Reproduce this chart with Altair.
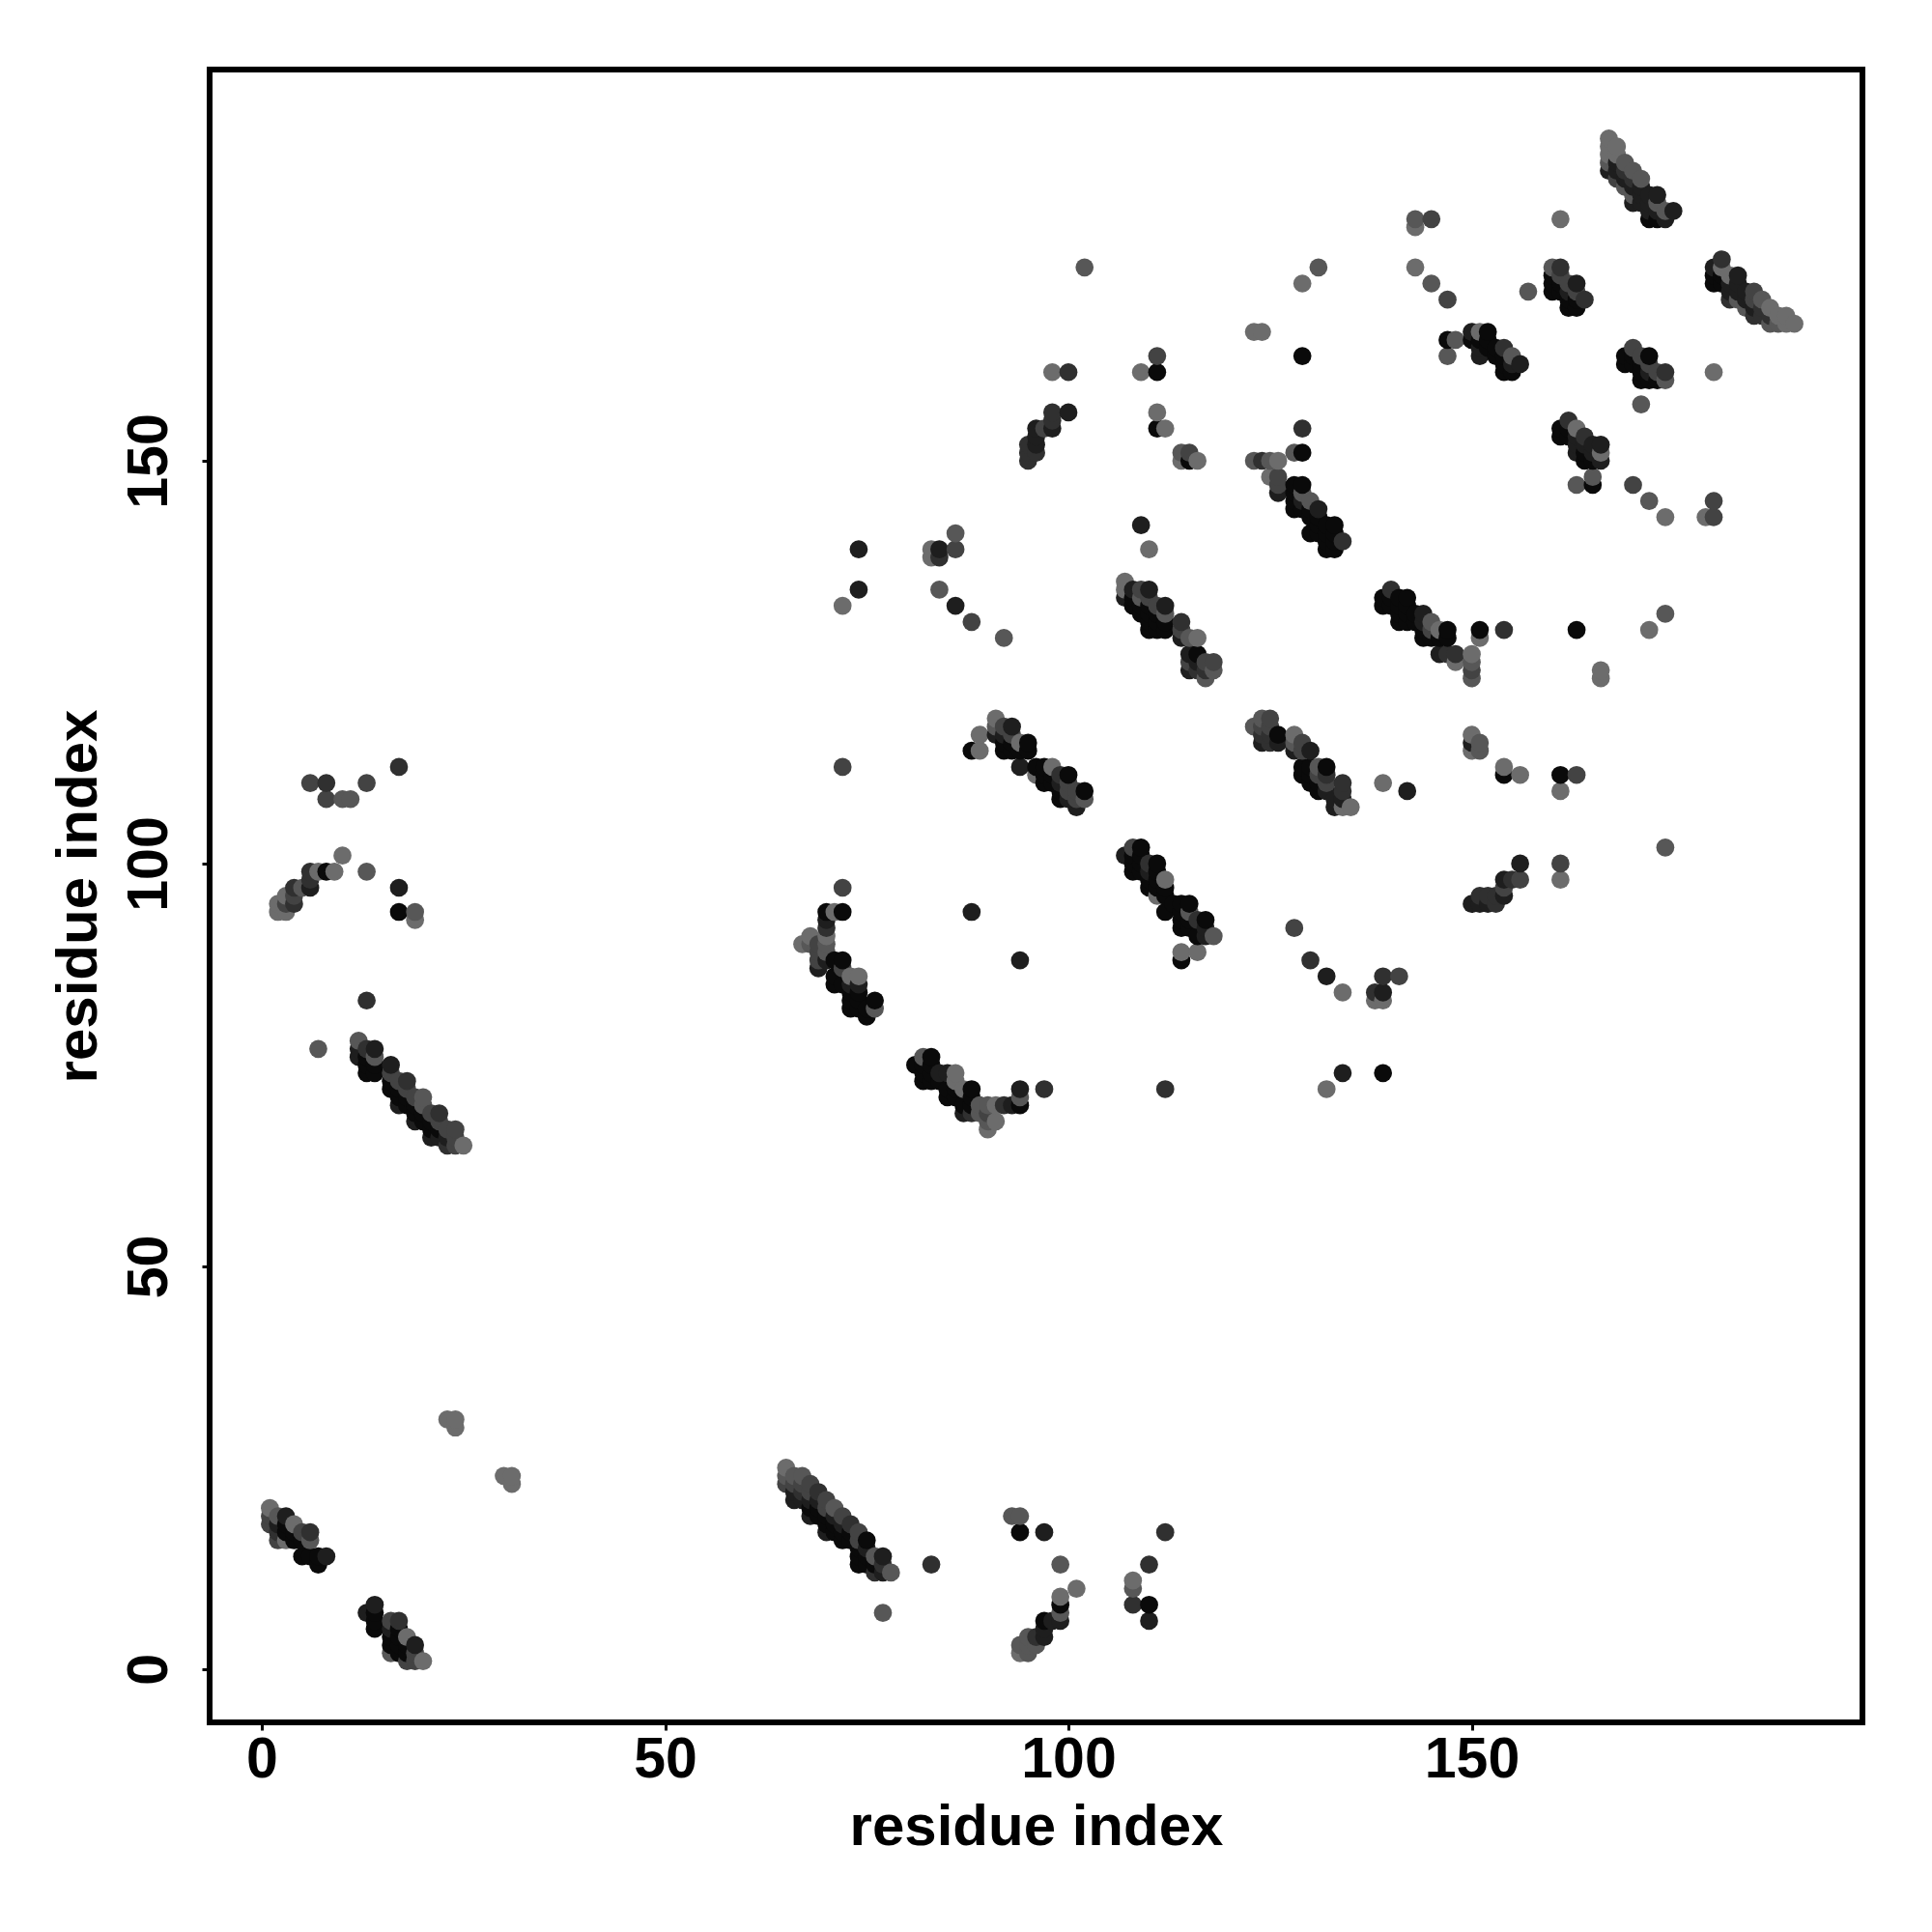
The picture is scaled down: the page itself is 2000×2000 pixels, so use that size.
import altair as alt
import pandas as pd

# Each tuple: residue x, residue y, contact shade (0 = darkest, 5 = lightest)
block_a = [(1,18,3),(1,19,3),(1,20,5),(2,16,3),(2,17,2),(2,18,1),(2,19,4),(3,16,5),(3,17,0),(3,18,0),(3,19,1),
           (4,16,0),(4,17,0),(4,18,5),(5,14,0),(5,16,0),(5,17,3),(6,14,0),(6,16,4),(6,17,2),(7,13,0),(7,14,0),(8,14,1)]
block_b = [(13,7,1),(14,5,0),(14,6,0),(14,7,0),(14,8,1),(16,2,4),(16,3,0),(16,4,0),(16,5,1),(16,6,3),
           (17,2,0),(17,3,0),(17,4,0),(17,5,0),(17,6,2),(18,1,3),(18,2,0),(18,3,0),(18,4,5),(19,1,3),(19,2,3),(19,3,1),(20,1,5)]
block_c = [(7,77,4),(12,76,1),(12,77,1),(12,78,4),(13,74,0),(13,75,0),(13,76,0),(13,77,2),(13,83,2),
           (14,74,0),(14,75,0),(14,76,4),(14,77,1),(16,72,0),(16,73,0),(16,74,3),(16,75,1),
           (17,70,1),(17,71,0),(17,72,0),(17,73,3),(18,70,0),(18,71,0),(18,72,3),(18,73,2),
           (19,68,1),(19,69,0),(19,70,0),(19,71,3),(20,68,0),(20,69,0),(20,70,4),(20,71,4),
           (21,66,1),(21,67,0),(21,68,0),(21,69,3),(22,66,1),(22,67,0),(22,68,3),(22,69,2),
           (23,65,2),(23,66,1),(23,67,3),(24,65,3),(24,66,3),(24,67,3),(25,65,5)]
block_d = [(65,23,3),(65,24,4),(65,25,5),(66,21,1),(66,22,1),(66,23,3),(66,24,4),(67,21,1),(67,22,2),(67,23,3),(67,24,4),
           (68,19,1),(68,20,0),(68,21,1),(68,22,3),(68,23,3),(69,19,0),(69,20,0),(69,21,1),(69,22,2),
           (70,17,1),(70,18,0),(70,19,0),(70,20,3),(70,21,3),(71,17,0),(71,18,0),(71,19,1),(71,20,4),
           (72,16,0),(72,17,0),(72,18,1),(72,19,3),(73,16,0),(73,17,0),(73,18,2),
           (74,13,0),(74,14,0),(74,15,0),(74,16,3),(74,17,3),(75,13,0),(75,14,0),(75,15,1),(75,16,0),
           (76,12,2),(76,13,0),(76,14,4),(77,7,4),(77,12,1),(77,13,2),(77,14,1),(78,12,4),(83,13,2)]
isolated_low = [(23,31,5),(24,31,5),(24,30,5),(30,24,5),(31,24,5),(31,23,5),
                (93,19,4),(94,19,4),(94,17,0),(97,17,1),(99,13,4),(101,10,5),(99,9,5),(99,8,0),(99,7,4),(99,6,1),
                (97,6,0),(98,6,1),(97,5,1),(96,4,2),(97,4,1),(95,4,4),(94,3,4),(94,2,5),(95,2,4),(96,3,4),(95,3,4),
                (108,11,5),(108,10,4),(108,8,2),(110,13,2),(110,8,0),(110,6,1),(112,17,2)]
far_points = [(132,72,5),(134,74,1),(139,74,0),(132,86,1),(134,84,5),(138,84,2),(139,84,1),(138,83,5),(139,83,5),
              (139,86,2),(141,86,3),(88,94,1),(94,88,1),(128,92,3),(130,88,2),(139,110,5),(142,109,1),
              (109,142,1),(110,139,5),(88,130,3),(92,128,4)]
block_e1 = [(72,97,3),(72,94,0),(71,94,5),(70,94,0),(70,93,1),(70,92,2),(70,91,5),(70,90,4),(70,89,4),
            (68,91,5),(67,90,5),(68,90,4),(69,90,3),(69,89,3),(69,88,3),(69,87,1),(70,88,1),(71,88,0),(72,88,0),
            (71,85,0),(71,86,0),(72,87,3),(73,86,5),(74,86,5),(74,85,1),(73,83,0),(73,84,0),(72,85,0),(73,85,1),
            (74,84,0),(74,83,0),(75,81,0),(75,82,0),(74,82,0),(73,82,0),(76,83,0),(76,82,4)]
block_e2 = [(81,75,0),(82,76,4),(83,76,0),(82,75,0),(82,74,0),(82,73,0),(83,75,0),(83,74,0),(83,73,0),(84,74,1),(84,73,0),
            (85,74,1),(86,74,5),(86,73,5),(85,71,0),(85,72,0),(86,72,0),(86,71,0),(87,72,5),(88,72,0),(88,71,0),
            (87,69,1),(87,70,0),(88,69,2),(88,70,0),(89,70,4),(89,69,4),(90,70,4),(90,69,3),(90,68,4),(90,67,5),(91,68,5),
            (91,70,5),(92,70,2),(93,70,1),(94,70,0),(94,71,4),(94,72,1),(97,72,2),(112,72,2)]
block_f = [(107,101,1),(108,102,3),(109,102,0),(108,101,0),(108,100,0),(108,99,0),(109,101,0),(109,100,0),(109,99,0),
           (110,100,2),(110,99,1),(110,98,0),(110,97,0),(111,100,0),(111,99,0),(111,98,0),(111,97,0),(111,96,5),
           (112,98,5),(112,97,0),(112,96,0),(112,94,0),(113,95,0),(114,95,0),(115,95,0),(114,94,0),(114,93,0),(114,92,0),
           (115,94,4),(115,93,0),(115,92,0),(116,93,2),(117,93,0),(116,91,0),(117,92,1),(117,91,1),(118,91,4),
           (114,89,5),(116,89,5),(114,88,0)]
block_g = [(89,116,5),(89,114,5),(88,114,0),(91,118,5),(91,117,4),(91,116,1),(92,117,3),(92,116,1),(92,115,0),(92,114,0),
           (93,117,1),(93,116,3),(93,115,0),(93,114,0),(94,115,5),(94,114,0),(94,112,1),(95,115,0),(95,114,0),
           (96,112,0),(96,111,5),(97,112,0),(97,111,0),(97,110,0),(98,112,5),(98,111,0),(98,110,0),
           (99,111,2),(99,110,1),(99,109,0),(99,108,0),(100,111,0),(100,110,3),(100,109,3),(100,108,1),
           (101,107,1),(101,109,3),(101,108,3),(102,109,0),(102,108,4)]
block_h = [(107,135,5),(107,134,5),(107,133,1),(108,134,1),(108,133,0),(108,132,0),(109,134,3),(109,133,4),(109,132,0),(109,131,0),
           (110,134,1),(110,133,3),(110,132,0),(110,131,0),(110,130,0),(110,129,0),(111,132,3),(111,131,0),(111,130,0),(111,129,0),
           (112,132,1),(112,131,4),(112,130,0),(112,129,0),(114,130,2),(114,129,3),(114,128,1),(115,128,4),(116,128,5),
           (115,126,1),(115,125,3),(115,124,1),(116,126,0),(116,125,1),(116,124,2),(117,125,3),(117,124,2),(117,123,4),(118,125,3),(118,124,4)]
block_i = [(123,117,4),(124,118,4),(125,118,3),(124,117,3),(124,116,2),(124,115,1),(125,117,3),(125,116,2),(125,115,2),
           (126,116,0),(126,115,1),(128,116,5),(128,115,4),(128,114,1),(129,115,3),(129,114,3),(130,114,1),
           (129,112,0),(129,111,0),(130,112,0),(130,111,0),(130,110,0),(131,112,4),(131,111,3),(131,110,0),(131,109,0),
           (132,112,0),(132,111,2),(132,110,3),(132,109,1),(133,107,1),(133,108,1),(134,110,2),(134,109,2),(134,108,1),(134,107,5),(135,107,5)]
block_j1 = [(129,154,2),(128,151,4),(129,151,0),(123,150,4),(124,150,2),(125,150,4),(126,150,5),(125,148,5),(126,148,3),(126,147,3),(126,146,1),
            (128,147,0),(129,147,0),(128,146,0),(128,145,0),(128,144,0),(129,146,4),(129,145,1),(129,144,0),(130,145,4),(130,144,0),(130,143,0),
            (131,144,1),(131,143,0),(131,142,0),(130,141,0),(132,142,0),(133,142,0),(132,141,0),(132,140,0),(132,139,0),(131,141,0),
            (133,141,0),(133,140,0),(133,139,0),(134,140,2)]
block_j2 = [(139,133,0),(139,132,0),(140,134,2),(140,133,0),(140,132,0),(141,133,0),(141,132,0),(141,131,0),(141,130,0),
            (142,133,0),(142,132,0),(142,131,0),(142,130,0),(143,131,0),(143,130,0),(144,131,1),(144,130,1),(144,129,0),(144,128,0),
            (145,130,4),(145,129,3),(145,128,0),(146,128,0),(146,129,5),(147,129,0),(147,128,0),(146,126,1),(147,126,2),(148,126,2),(148,125,5),
            (150,126,5),(150,125,4),(150,124,3),(150,123,4),(151,129,0),(151,128,5),(154,129,2),(163,129,0),(172,129,5),(174,131,4),(166,124,5),(166,123,5)]
scatter_mid = [(150,116,5),(151,115,4),(150,115,1),(151,114,4),(150,114,5),(154,112,5),(154,111,0),(156,111,5),
               (161,111,0),(163,111,3),(161,109,5),(174,102,4),(161,100,3),(161,98,5)]
block_l = [(156,100,1),(154,98,1),(156,98,3),(154,96,1),(155,98,2),(154,97,3),(152,96,2),(153,96,2),(151,96,2),(150,95,1),(151,95,1),(152,95,1),(153,95,2)]
scatter_top = [(143,180,4),(143,179,5),(145,180,3),(161,180,5),(143,174,5),(145,172,4),(147,170,3),(157,171,4),
               (180,161,5),(171,157,4),(163,147,4),(165,148,4),(165,147,0),(170,147,3),(172,145,4),(174,143,5),(179,143,5),(180,143,3),(180,145,3),
               (102,174,4),(98,161,5),(100,161,2),(109,161,5),(111,161,0),(111,163,3),(111,156,5),(111,154,0),(112,154,5),
               (129,172,5),(131,174,4),(123,166,5),(124,166,5),(129,163,0),(114,151,4),(115,151,3),(114,150,5),(115,150,0),(116,150,5)]
block_n = [(160,174,4),(161,174,2),(160,173,0),(160,172,0),(160,171,0),(161,173,3),(161,172,0),(161,171,0),(162,172,3),(162,171,1),(162,170,0),(162,169,0),
           (163,172,1),(163,171,3),(163,170,0),(163,169,0),(164,170,2)]
block_o = [(167,190,5),(167,189,5),(167,188,5),(167,187,4),(167,186,1),(168,189,5),(168,188,5),(168,187,1),(168,186,1),(168,185,3),
           (169,187,4),(169,186,2),(169,185,1),(169,184,4),(170,186,4),(170,185,2),(170,184,1),(170,183,4),(170,182,1),
           (171,185,4),(171,184,1),(171,183,1),(171,182,1),(172,183,1),(172,182,1),(172,181,1),(172,180,0),
           (173,183,1),(173,182,4),(173,181,1),(173,180,0),(174,181,4),(174,180,1),(175,181,1)]
block_p = [(181,175,2),(180,174,1),(180,173,0),(180,172,0),(181,174,5),(181,173,0),(181,172,0),(182,173,5),(182,172,1),(182,171,1),(182,170,2),
           (183,173,1),(183,172,1),(183,171,1),(183,170,4),(184,171,1),(184,170,1),(184,169,4),(185,171,3),(185,170,3),(185,169,1),(185,168,2),
           (186,170,4),(186,169,2),(186,168,2),(187,169,5),(187,168,2),(187,167,4),(188,168,5),(188,167,4),(189,168,5),(189,167,5),(190,167,5)]
block_q = [(147,165,0),(148,165,4),(147,163,4),(150,166,1),(151,166,5),(152,166,0),(150,165,0),(151,165,0),(152,165,0),(151,164,1),(151,163,1),
           (152,164,0),(153,164,0),(153,163,0),(154,164,2),(154,163,0),(154,162,0),(154,161,0),(155,163,4),(155,162,1),(155,161,0),(156,162,1)]
block_r = [(170,164,3),(169,163,0),(169,162,0),(170,163,0),(170,162,0),(171,163,3),(171,162,0),(171,161,0),(171,160,0),
           (172,163,0),(172,162,3),(172,161,1),(172,160,0),(173,161,3),(173,160,0),(174,161,2),(174,160,4)]
block_s = [(162,155,2),(161,154,0),(161,153,0),(162,154,0),(162,153,0),(163,154,5),(163,153,1),(163,152,1),(163,151,1),
           (164,153,2),(164,152,1),(164,151,0),(164,150,0),(165,152,1),(165,151,1),(165,150,0),(166,152,1),(166,151,5),(166,150,1)]
block_t = [(98,156,2),(100,156,1),(98,155,2),(98,154,1),(97,154,3),(96,154,1),(96,153,1),(96,152,1),(95,152,2),(95,151,2),(95,150,2),(96,151,2)]
scatter_left = [(74,139,1),(74,134,1),(72,132,5),(83,139,5),(83,138,5),(84,139,1),(84,138,2),(86,139,3),(86,141,4),
                (84,134,4),(86,132,1),(72,112,3),(17,112,2),(6,110,3),(8,110,2),(13,110,3),(8,108,3),(10,108,4),(11,108,4),
                (10,101,5),(13,99,4),(9,99,5),(7,99,5),(8,99,0),(6,99,2),(6,98,2),(6,97,1),(4,97,2),(5,97,4),(4,96,3),(3,96,5),
                (4,95,2),(2,95,5),(3,95,3),(2,94,5),(3,94,5),(17,97,1),(17,94,0),(19,94,4),(19,93,5)]

tick_values = [0, 50, 100, 150]
axis_title = "residue index"
x_domain = [-6.47, 198.44]
y_domain = [-6.6, 198.56]

blocks = [block_a, block_b, block_c, block_d, isolated_low, far_points, block_e1, block_e2, block_f, block_g,
          block_h, block_i, block_j1, block_j2, scatter_mid, block_l, scatter_top, block_n, block_o, block_p,
          block_q, block_r, block_s, block_t, scatter_left]
rows = [t for b in blocks for t in b]
df = pd.DataFrame(rows, columns=["x", "y", "shade"])
df = df.drop_duplicates(["x", "y"], keep="last").sort_values(["x", "y"])

font = "Liberation Sans"
W = 1711
chart = (
    alt.Chart(df)
    .mark_circle(size=350, opacity=1)
    .encode(
        x=alt.X("x:Q", scale=alt.Scale(domain=x_domain, nice=False, zero=False),
                axis=alt.Axis(values=tick_values, grid=False, domain=False, tickSize=8, tickWidth=3, tickColor="black",
                              labelFont=font, labelFontWeight="bold", labelFontSize=59, labelColor="black",
                              labelPadding=48, labelBaseline="alphabetic", labelFlush=False, labelOverlap=False,
                              title=axis_title, titleFont=font, titleFontWeight="bold", titleFontSize=60, titleColor="black",
                              titleX=W / 2, titleY=126, titleBaseline="alphabetic", titleAlign="center")),
        y=alt.Y("y:Q", scale=alt.Scale(domain=y_domain, nice=False, zero=False),
                axis=alt.Axis(values=tick_values, grid=False, domain=False, tickSize=8, tickWidth=3, tickColor="black",
                              labelFont=font, labelFontWeight="bold", labelFontSize=59, labelColor="black",
                              labelAngle=270, labelAlign="center", labelBaseline="alphabetic", labelPadding=37,
                              labelFlush=False, labelOverlap=False,
                              title=axis_title, titleFont=font, titleFontWeight="bold", titleFontSize=60, titleColor="black",
                              titleX=-118, titleY=W / 2, titleAngle=270, titleBaseline="alphabetic", titleAlign="center")),
        color=alt.Color("shade:Q", scale=alt.Scale(domain=[0, 5], range=["#0a0a0a", "#6c6c6c"]), legend=None),
    )
    .properties(width=W, height=W, autosize=alt.AutoSizeParams(type="none"),
                padding={"left": 209, "top": 64, "right": 60, "bottom": 200}, background="white")
    .configure_view(stroke="black", strokeWidth=6)
)
chart.save("out.html", embed_options={"renderer": "svg", "actions": False})
